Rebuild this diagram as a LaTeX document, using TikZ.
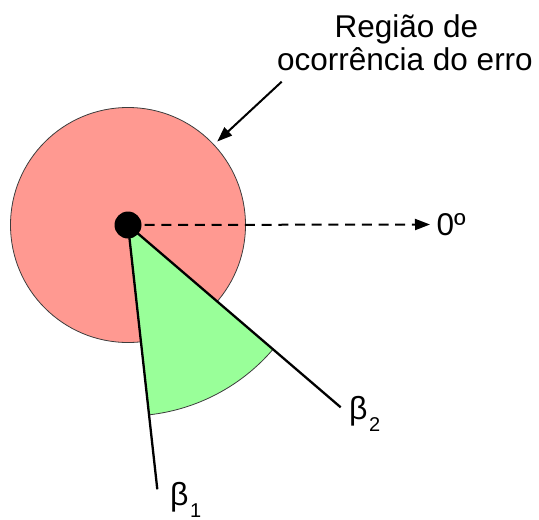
\documentclass[tikz,border=0pt]{standalone}
\usepackage{fontspec}
\setmainfont{Liberation Sans}
\usetikzlibrary{arrows.meta}
\definecolor{pinkfill}{RGB}{255,153,145}
\definecolor{greenfill}{RGB}{153,255,153}
\definecolor{rimline}{RGB}{60,60,60}
\tikzset{
  lbl/.style={inner sep=0pt, font=\fontsize{31.5}{35}\selectfont},
  thickline/.style={line width=2.3pt, black},
  arr/.style={line width=2pt, -{Triangle[length=15pt,width=11pt]}}
}
\newcommand{\betasub}[1]{{\fontsize{32}{32}\selectfont β}\kern1.5pt\raisebox{-12pt}{\fontsize{20}{20}\selectfont #1}}
\begin{document}
\begin{tikzpicture}[x=1pt,y=-1pt]
\useasboundingbox (0,0) rectangle (539,520);
% error region
\coordinate (c) at (128,225);
\fill[pinkfill, draw=rimline, line width=0.8pt] (c) circle[radius=117.5];
% green sector
\fill[greenfill, draw=rimline, line width=0.8pt] (c) -- ++(83.7:191) arc[start angle=83.7, end angle=40.6, radius=191] -- cycle;
% beta lines
\coordinate (e1) at (157.3,489.3);
\coordinate (e2) at (340.7,407.3);
\draw[thickline] (c) -- (e1);
\draw[thickline] (c) -- (e2);
% zero direction
\coordinate (z) at (430,224.5);
\draw[line width=2pt, dash pattern=on 10pt off 6.7pt, -{Triangle[length=15pt,width=11pt]}] (c) -- (z);
\node[lbl, anchor=base west] (zero) at (436.5,235.5) {0º};
% center dot
\fill[black] (c) circle[radius=13.5];
\node[circle, minimum size=27pt, inner sep=0pt] (dot) at (c) {};
% labels
\node[lbl, anchor=base] (t1) at (406.5,37.3) {Região de};
\node[lbl, anchor=base] (t2) at (405,70.7) {ocorrência do erro};
\coordinate (as) at (281.7,81.7);
\coordinate (at) at (217.3,141.5);
\draw[arr] (as) -- (at);
\node[lbl, anchor=base west] (b1) at (170,505) {\betasub{1}};
\node[lbl, anchor=base west] (b2) at (349,419) {\betasub{2}};
\end{tikzpicture}
\end{document}
